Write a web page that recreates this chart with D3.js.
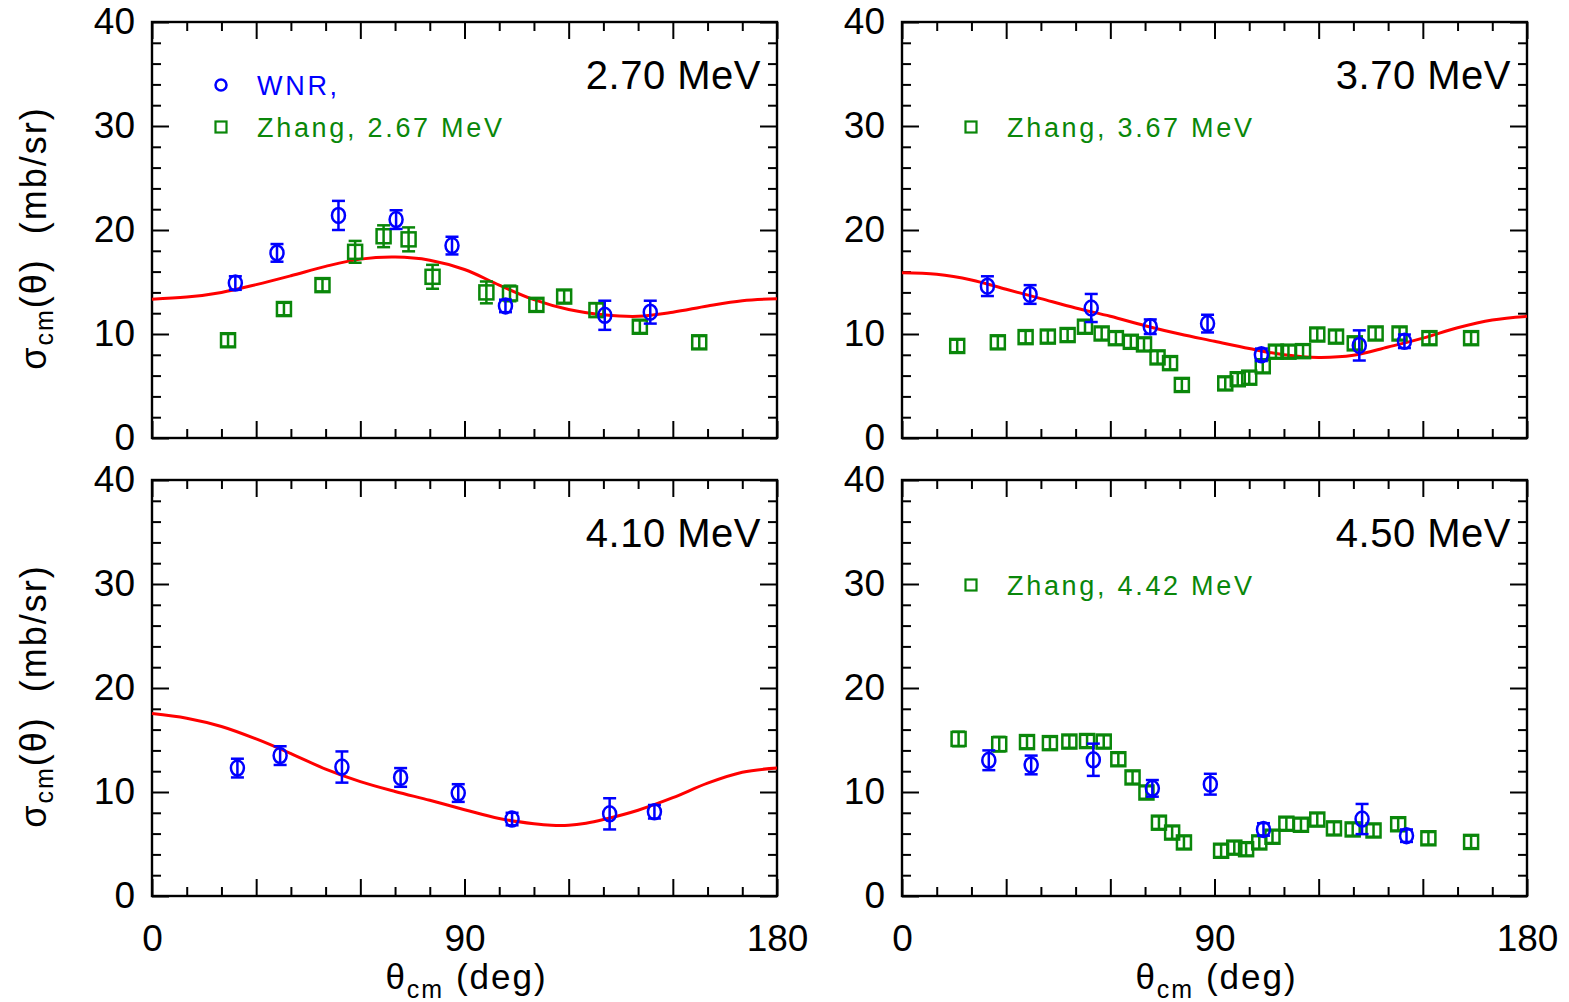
<!DOCTYPE html>
<html>
<head>
<meta charset="utf-8">
<script src="https://cdn.jsdelivr.net/npm/d3@7"></script>
<style>
  html, body { margin: 0; padding: 0; background: #fff; }
  svg text { font-family: "Liberation Sans", Arial, Helvetica, sans-serif; }
</style>
</head>
<body>
<svg id="chart" width="1569" height="1002"></svg>
<script>
// Elastic angular distributions, sigma_cm(theta) in mb/sr.
// Data rows: [theta_cm (deg), sigma (mb/sr), uncertainty (mb/sr)]
// Fit rows:  [theta_cm (deg), sigma (mb/sr)]

const energyLabels = ["2.70 MeV", "3.70 MeV", "4.10 MeV", "4.50 MeV"];
const legendWNR = "WNR,";
const legendZhang = ["Zhang, 2.67 MeV", "Zhang, 3.67 MeV", "Zhang, 4.42 MeV"];

const xTickLabels = [0, 90, 180];
const yTickLabels = [0, 10, 20, 30, 40];

// 2.70 MeV
const wnr270 = [
  [24.0, 14.9, 0.65], [36.0, 17.8, 0.85], [53.7, 21.4, 1.4], [70.3, 21.0, 0.9],
  [86.4, 18.5, 0.85], [101.8, 12.7, 0.6], [130.4, 11.8, 1.4], [143.5, 12.1, 1.1]
];
const zhang267 = [
  [21.9, 9.4, 0.6], [38.0, 12.4, 0.6], [49.1, 14.7, 0.6], [58.5, 17.9, 1.05],
  [66.7, 19.4, 1.05], [73.9, 19.1, 1.15], [80.8, 15.5, 1.15], [96.3, 14.0, 1.05],
  [103.1, 13.9, 0.75], [110.7, 12.8, 0.6], [118.7, 13.6, 0.6], [128.0, 12.3, 0.65],
  [140.5, 10.7, 0.6], [157.6, 9.2, 0.6]
];
const fit270 = [
  [0, 13.35], [10, 13.55], [20, 14.0], [30, 14.75], [40, 15.6], [50, 16.5],
  [60, 17.2], [70, 17.4], [80, 17.1], [90, 16.2], [100, 14.7], [110, 13.3],
  [120, 12.35], [130, 11.85], [140, 11.7], [150, 12.1], [160, 12.7], [170, 13.2], [180, 13.4]
];

// 3.70 MeV
const wnr370 = [
  [24.6, 14.6, 0.95], [36.9, 13.8, 0.9], [54.5, 12.5, 1.35], [71.5, 10.7, 0.7],
  [88.0, 11.0, 0.85], [103.5, 8.0, 0.6], [131.7, 8.9, 1.45], [144.7, 9.3, 0.65]
];
const zhang367 = [
  [15.9, 8.85, 0.6], [27.6, 9.2, 0.6], [35.6, 9.7, 0.6], [42.0, 9.75, 0.6],
  [47.7, 9.9, 0.6], [52.7, 10.7, 0.6], [57.5, 10.05, 0.6], [61.6, 9.6, 0.6],
  [65.9, 9.25, 0.6], [69.7, 9.0, 0.6], [73.6, 7.75, 0.6], [77.2, 7.2, 0.6],
  [80.6, 5.1, 0.6], [93.1, 5.25, 0.6], [96.7, 5.65, 0.6], [100.0, 5.8, 0.6],
  [103.9, 6.9, 0.6], [107.7, 8.3, 0.6], [111.3, 8.3, 0.6], [115.5, 8.35, 0.6],
  [119.6, 9.95, 0.6], [125.0, 9.75, 0.6], [130.4, 9.1, 0.6], [136.4, 10.05, 0.6],
  [143.3, 10.05, 0.6], [151.9, 9.6, 0.6], [163.9, 9.6, 0.6]
];
const fit370 = [
  [0, 15.9], [10, 15.75], [20, 15.2], [30, 14.3], [40, 13.4], [50, 12.5],
  [60, 11.7], [70, 10.8], [80, 10.0], [90, 9.3], [100, 8.6], [110, 8.0],
  [120, 7.75], [130, 7.95], [140, 8.75], [150, 9.6], [160, 10.6], [170, 11.35], [180, 11.7]
];

// 4.10 MeV
const wnr410 = [
  [24.6, 12.3, 0.9], [36.9, 13.5, 0.9], [54.7, 12.4, 1.5], [71.6, 11.4, 0.9],
  [88.2, 9.9, 0.85], [103.7, 7.4, 0.6], [131.8, 7.9, 1.5], [144.7, 8.1, 0.65]
];
const fit410 = [
  [0, 17.55], [10, 17.1], [20, 16.3], [30, 15.1], [40, 13.7], [50, 12.2],
  [60, 11.0], [70, 10.05], [80, 9.2], [90, 8.3], [100, 7.45], [110, 6.95],
  [115, 6.8], [120, 6.8], [125, 7.0], [130, 7.35], [140, 8.25], [150, 9.45],
  [160, 10.85], [170, 11.9], [180, 12.3]
];

// 4.50 MeV
const wnr450 = [
  [25.0, 13.05, 0.95], [37.2, 12.6, 0.9], [55.1, 13.1, 1.55], [72.1, 10.35, 0.8],
  [88.8, 10.75, 1.0], [104.1, 6.4, 0.6], [132.5, 7.4, 1.45], [145.3, 5.8, 0.6]
];
const zhang442 = [
  [16.3, 15.1, 0.7], [28.0, 14.6, 0.7], [36.0, 14.8, 0.6], [42.6, 14.7, 0.6],
  [48.2, 14.85, 0.6], [53.3, 14.9, 0.6], [58.1, 14.85, 0.6], [62.3, 13.15, 0.6],
  [66.4, 11.4, 0.6], [70.4, 9.95, 0.6], [74.0, 7.05, 0.6], [77.8, 6.1, 0.6],
  [81.2, 5.15, 0.6], [91.9, 4.35, 0.6], [95.7, 4.65, 0.6], [99.1, 4.5, 0.6],
  [102.9, 5.15, 0.6], [106.7, 5.7, 0.6], [110.7, 6.95, 0.6], [114.9, 6.85, 0.6],
  [119.6, 7.35, 0.6], [124.4, 6.5, 0.6], [129.8, 6.4, 0.6], [135.8, 6.3, 0.6],
  [142.9, 6.9, 0.6], [151.6, 5.55, 0.6], [163.9, 5.2, 0.6]
];

const BLUE = "#0000ff";
const GREEN = "#0a870a";
const RED = "#ff0000";

const svg = d3.select("#chart");

const plotW = 625, plotH = 416;
const panels = [
  { left: 152, top: 22,  label: energyLabels[0], wnr: wnr270, zhang: zhang267, fit: fit270,
    legend: [["circle", legendWNR, BLUE], ["square", legendZhang[0], GREEN]], yTitle: true,  xTitle: false },
  { left: 902, top: 22,  label: energyLabels[1], wnr: wnr370, zhang: zhang367, fit: fit370,
    legend: [null, ["square", legendZhang[1], GREEN]], yTitle: false, xTitle: false },
  { left: 152, top: 480, label: energyLabels[2], wnr: wnr410, zhang: null, fit: fit410,
    legend: [], yTitle: true,  xTitle: true },
  { left: 902, top: 480, label: energyLabels[3], wnr: wnr450, zhang: zhang442, fit: null,
    legend: [null, ["square", legendZhang[2], GREEN]], yTitle: false, xTitle: true }
];

const majorLen = 17, minorLen = 9;

function styleAxis(g, withText) {
  g.select(".domain").remove();
  g.selectAll(".tick line").attr("stroke", "#000").attr("stroke-width", 2);
  if (withText) {
    g.selectAll(".tick text").attr("fill", "#000").attr("font-size", 37)
      .attr("font-family", "'Liberation Sans', Arial, sans-serif");
  } else {
    g.selectAll(".tick text").remove();
  }
}

panels.forEach(p => {
  const x = d3.scaleLinear().domain([0, 180]).range([p.left, p.left + plotW]);
  const y = d3.scaleLinear().domain([0, 40]).range([p.top + plotH, p.top]);
  const g = svg.append("g");

  const xMajor = d3.range(0, 181, 30);
  const xMinor = d3.range(0, 181, 10).filter(v => v % 30 !== 0);
  const yMajor = d3.range(0, 41, 10);
  const yMinor = d3.range(0, 41, 2).filter(v => v % 10 !== 0);

  // bottom
  g.append("g").attr("transform", `translate(0,${p.top + plotH})`)
    .call(d3.axisBottom(x).tickValues(xMajor).tickSize(-majorLen).tickPadding(29)
      .tickFormat(v => xTickLabels.includes(v) ? String(v) : ""))
    .call(a => styleAxis(a, p.xTitle));
  g.append("g").attr("transform", `translate(0,${p.top + plotH})`)
    .call(d3.axisBottom(x).tickValues(xMinor).tickSize(-minorLen))
    .call(a => styleAxis(a, false));
  // top
  g.append("g").attr("transform", `translate(0,${p.top})`)
    .call(d3.axisTop(x).tickValues(xMajor).tickSize(-majorLen))
    .call(a => styleAxis(a, false));
  g.append("g").attr("transform", `translate(0,${p.top})`)
    .call(d3.axisTop(x).tickValues(xMinor).tickSize(-minorLen))
    .call(a => styleAxis(a, false));
  // left
  g.append("g").attr("transform", `translate(${p.left},0)`)
    .call(d3.axisLeft(y).tickValues(yMajor).tickSize(-majorLen).tickPadding(17)
      .tickFormat(v => yTickLabels.includes(v) ? String(v) : ""))
    .call(a => styleAxis(a, true));
  g.append("g").attr("transform", `translate(${p.left},0)`)
    .call(d3.axisLeft(y).tickValues(yMinor).tickSize(-minorLen))
    .call(a => styleAxis(a, false));
  // right
  g.append("g").attr("transform", `translate(${p.left + plotW},0)`)
    .call(d3.axisRight(y).tickValues(yMajor).tickSize(-majorLen))
    .call(a => styleAxis(a, false));
  g.append("g").attr("transform", `translate(${p.left + plotW},0)`)
    .call(d3.axisRight(y).tickValues(yMinor).tickSize(-minorLen))
    .call(a => styleAxis(a, false));

  // frame
  g.append("rect").attr("x", p.left).attr("y", p.top)
    .attr("width", plotW).attr("height", plotH)
    .attr("fill", "none").attr("stroke", "#000").attr("stroke-width", 2.4);

  // fitted curve
  if (p.fit) {
    const line = d3.line().x(d => x(d[0])).y(d => y(d[1])).curve(d3.curveCatmullRom.alpha(0.5));
    g.append("path").datum(p.fit).attr("d", line)
      .attr("fill", "none").attr("stroke", RED).attr("stroke-width", 3);
  }

  // error bars + symbols
  function drawSeries(data, color, kind) {
    const s = g.append("g").attr("stroke", color).attr("fill", "none").attr("stroke-width", 2.5);
    const capW = 6.5;
    data.forEach(d => {
      const cx = x(d[0]), y1 = y(d[1] - d[2]), y2 = y(d[1] + d[2]);
      s.append("line").attr("x1", cx).attr("x2", cx).attr("y1", y1).attr("y2", y2);
      s.append("line").attr("x1", cx - capW).attr("x2", cx + capW).attr("y1", y1).attr("y2", y1);
      s.append("line").attr("x1", cx - capW).attr("x2", cx + capW).attr("y1", y2).attr("y2", y2);
      if (kind === "circle") {
        s.append("ellipse").attr("cx", cx).attr("cy", y(d[1])).attr("rx", 6.5).attr("ry", 7.5);
      } else {
        s.append("rect").attr("x", cx - 7).attr("y", y(d[1]) - 7).attr("width", 14).attr("height", 14);
      }
    });
  }
  if (p.zhang) drawSeries(p.zhang, GREEN, "square");
  if (p.wnr) drawSeries(p.wnr, BLUE, "circle");

  // energy label
  g.append("text").attr("x", p.left + plotW - 16).attr("y", p.top + 67)
    .attr("text-anchor", "end").attr("font-size", 40).attr("fill", "#000")
    .attr("letter-spacing", 0.5)
    .text(p.label);

  // legend
  p.legend.forEach((item, i) => {
    if (!item) return;
    const [kind, text, color] = item;
    const ly = p.top + 63 + i * 42;
    const mx = p.left + 69;
    if (kind === "circle") {
      g.append("circle").attr("cx", mx).attr("cy", ly).attr("r", 5.5)
        .attr("fill", "none").attr("stroke", color).attr("stroke-width", 2.5);
    } else {
      g.append("rect").attr("x", mx - 5.5).attr("y", ly - 5.5).attr("width", 11).attr("height", 11)
        .attr("fill", "none").attr("stroke", color).attr("stroke-width", 2.2);
    }
    g.append("text").attr("x", p.left + 105).attr("y", ly + 10)
      .attr("font-size", 27).attr("letter-spacing", 2.7).attr("fill", color)
      .text(text);
  });

  // axis titles
  if (p.yTitle) {
    const t = svg.append("text")
      .attr("transform", `translate(46,${p.top + plotH / 2 + 8}) rotate(-90)`)
      .attr("text-anchor", "middle").attr("font-size", 36).attr("fill", "#000")
      .attr("letter-spacing", 2);
    t.append("tspan").text("σ");
    t.append("tspan").attr("font-size", 25).attr("dy", 7).text("cm");
    t.append("tspan").attr("dy", -7).text("(θ)\u00a0\u00a0(mb/sr)");
  }
  if (p.xTitle) {
    const t = svg.append("text")
      .attr("x", p.left + plotW / 2 + 2).attr("y", p.top + plotH + 93)
      .attr("text-anchor", "middle").attr("font-size", 35).attr("fill", "#000")
      .attr("letter-spacing", 2);
    t.append("tspan").text("θ");
    t.append("tspan").attr("font-size", 25).attr("dy", 9).text("cm");
    t.append("tspan").attr("dy", -9).text("\u00a0(deg)");
  }
});
</script>
</body>
</html>
